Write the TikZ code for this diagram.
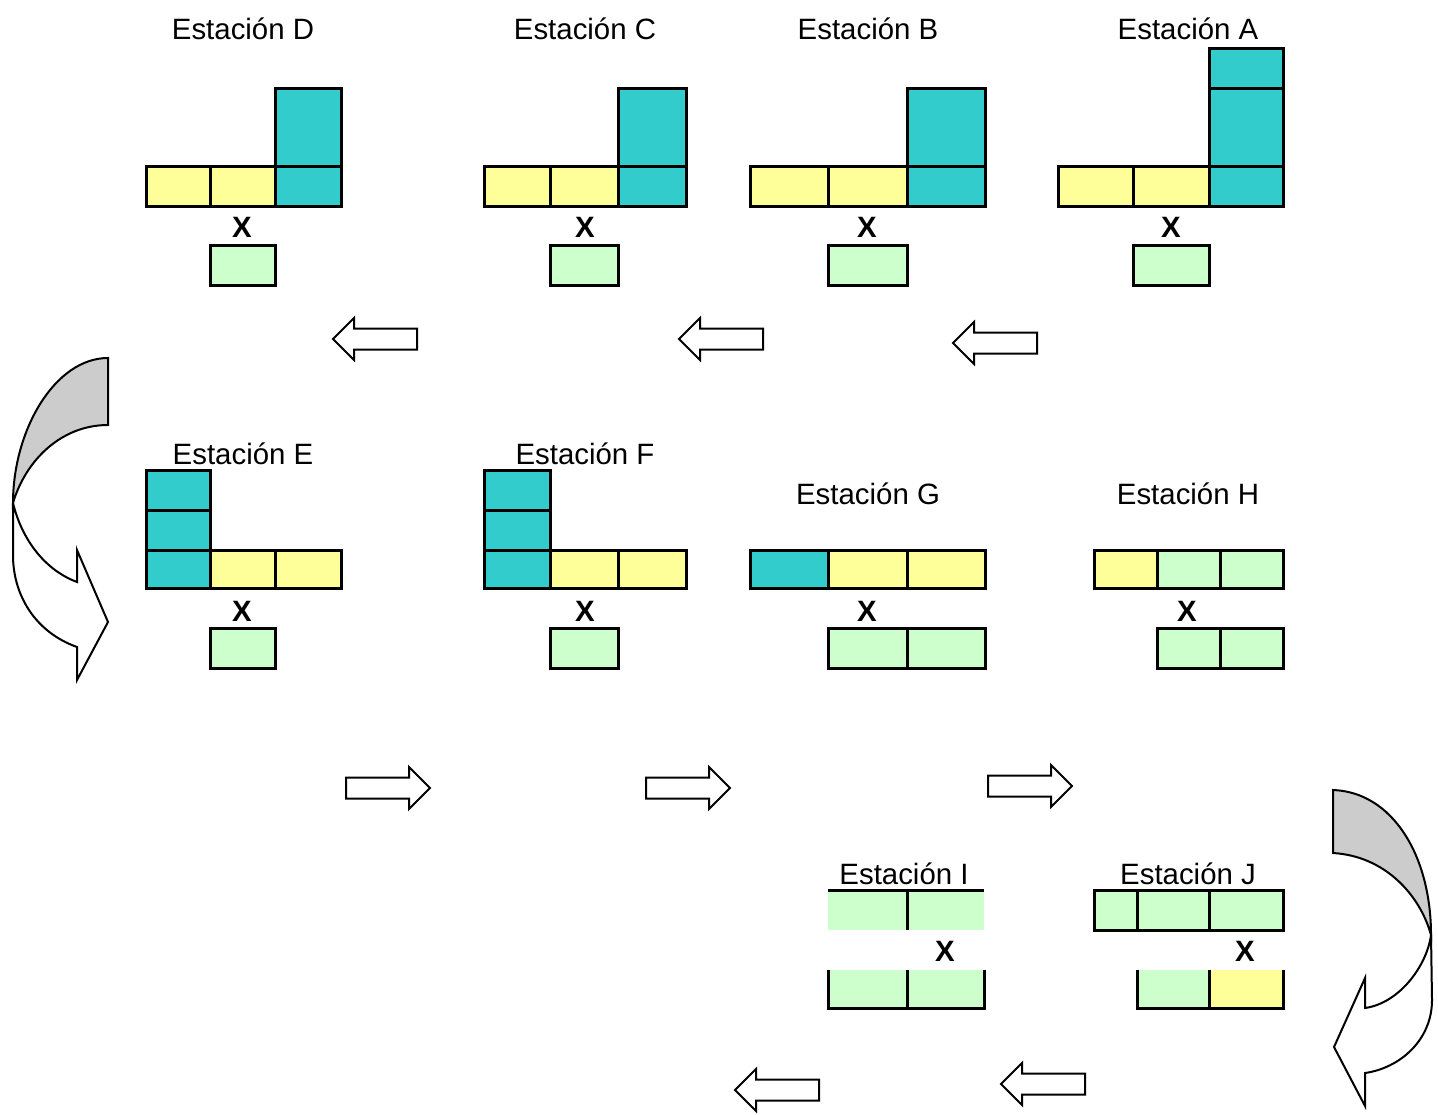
\documentclass[tikz,border=0pt]{standalone}
\usepackage{fontspec}
\setmainfont{Liberation Sans}

\definecolor{turquesa}{HTML}{33CCCC}
\definecolor{amarillo}{HTML}{FFFF99}
\definecolor{verde}{HTML}{CCFFCC}
\definecolor{sombra}{HTML}{CCCCCC}

\tikzset{
  celda/.style={draw=black, line width=1.5pt},
  borde/.style={line width=1.5pt},
  titulo/.style={anchor=base, inner sep=0pt, font=\fontsize{14.7}{17}\selectfont},
  por/.style={anchor=base, inner sep=0pt, font=\fontsize{14.7}{17}\selectfont\bfseries},
  bloque/.style={draw=black, fill=white, line width=1pt, line join=miter},
}

% flecha de bloque: punta x, y, sentido (1 = hacia la izquierda, -1 = hacia la derecha)
\newcommand{\flecha}[3]{%
  \draw[bloque] (#1,#2) -- ({#1+(#3)*21},{#2-21}) -- ({#1+(#3)*21},{#2-10.5})
    -- ({#1+(#3)*84},{#2-10.5}) -- ({#1+(#3)*84},{#2+10.5}) -- ({#1+(#3)*21},{#2+10.5})
    -- ({#1+(#3)*21},{#2+21}) -- cycle;}

\begin{document}
\begin{tikzpicture}[x=0.5pt,y=-0.5pt]
\useasboundingbox (0,0) rectangle (1438,1114);

% Estacion D
  \foreach \xa/\xb/\c in {146/210/amarillo, 210/275/amarillo, 275/341/turquesa}
    \draw[celda, fill=\c] (\xa,166) rectangle (\xb,206);
  \draw[celda, fill=turquesa] (275,88) rectangle (341,166);
  \draw[celda, fill=verde] (210,245) rectangle (275,285);
  \node[titulo] (tD) at (243,39) {Estación D};
  \node[por] (xD) at (242,237) {X};

% Estacion C
  \foreach \xa/\xb/\c in {484/550/amarillo, 550/618/amarillo, 618/686/turquesa}
    \draw[celda, fill=\c] (\xa,166) rectangle (\xb,206);
  \draw[celda, fill=turquesa] (618,88) rectangle (686,166);
  \draw[celda, fill=verde] (550,245) rectangle (618,285);
  \node[titulo] (tC) at (585,39) {Estación C};
  \node[por] (xC) at (585,237) {X};

% Estacion B
  \foreach \xa/\xb/\c in {750/828/amarillo, 828/907/amarillo, 907/985/turquesa}
    \draw[celda, fill=\c] (\xa,166) rectangle (\xb,206);
  \draw[celda, fill=turquesa] (907,88) rectangle (985,166);
  \draw[celda, fill=verde] (828,245) rectangle (907,285);
  \node[titulo] (tB) at (868,39) {Estación B};
  \node[por] (xB) at (867,237) {X};

% Estacion A
  \foreach \xa/\xb/\c in {1058/1133/amarillo, 1133/1209/amarillo, 1209/1283/turquesa}
    \draw[celda, fill=\c] (\xa,166) rectangle (\xb,206);
  \draw[celda, fill=turquesa] (1209,88) rectangle (1283,166);
  \draw[celda, fill=turquesa] (1209,48) rectangle (1283,88);
  \draw[celda, fill=verde] (1133,245) rectangle (1209,285);
  \node[titulo] (tA) at (1188,39) {Estación A};
  \node[por] (xA) at (1171,237) {X};

% Estacion E
  \foreach \ya/\yb in {470/510, 510/550, 550/588}
    \draw[celda, fill=turquesa] (146,\ya) rectangle (210,\yb);
  \foreach \xa/\xb in {210/275, 275/341}
    \draw[celda, fill=amarillo] (\xa,550) rectangle (\xb,588);
  \draw[celda, fill=verde] (210,628) rectangle (275,668);
  \node[titulo] (tE) at (243,464) {Estación E};
  \node[por] (xE) at (242,621) {X};

% Estacion F
  \foreach \ya/\yb in {470/510, 510/550, 550/588}
    \draw[celda, fill=turquesa] (484,\ya) rectangle (550,\yb);
  \foreach \xa/\xb in {550/618, 618/686}
    \draw[celda, fill=amarillo] (\xa,550) rectangle (\xb,588);
  \draw[celda, fill=verde] (550,628) rectangle (618,668);
  \node[titulo] (tF) at (585,464) {Estación F};
  \node[por] (xF) at (585,621) {X};

% Estacion G
  \foreach \xa/\xb/\c in {750/828/turquesa, 828/907/amarillo, 907/985/amarillo}
    \draw[celda, fill=\c] (\xa,550) rectangle (\xb,588);
  \foreach \xa/\xb in {828/907, 907/985}
    \draw[celda, fill=verde] (\xa,628) rectangle (\xb,668);
  \node[titulo] (tG) at (868,504) {Estación G};
  \node[por] (xG) at (867,621) {X};

% Estacion H
  \foreach \xa/\xb/\c in {1094/1157/amarillo, 1157/1220/verde, 1220/1283/verde}
    \draw[celda, fill=\c] (\xa,550) rectangle (\xb,588);
  \foreach \xa/\xb in {1157/1220, 1220/1283}
    \draw[celda, fill=verde] (\xa,628) rectangle (\xb,668);
  \node[titulo] (tH) at (1188,504) {Estación H};
  \node[por] (xH) at (1187,621) {X};

% Estacion I
  \fill[verde] (828,890) rectangle (984,930);
  \draw[borde] (828,890) -- (984,890) (907,890) -- (907,930);
  \fill[verde] (828,970) rectangle (984,1008);
  \draw[borde] (828,970) -- (828,1008) -- (984,1008) -- (984,970) (907,970) -- (907,1008);
  \node[titulo] (tI) at (904,884) {Estación I};
  \node[por] (xI) at (945,961) {X};

% Estacion J
  \foreach \xa/\xb in {1094/1137, 1137/1209, 1209/1283}
    \draw[celda, fill=verde] (\xa,890) rectangle (\xb,930);
  \fill[verde] (1137,970) rectangle (1209,1008);
  \fill[amarillo] (1209,970) rectangle (1283,1008);
  \draw[borde] (1137,970) -- (1137,1008) -- (1283,1008) -- (1283,970) (1209,970) -- (1209,1008);
  \node[titulo] (tJ) at (1188,884) {Estación J};
  \node[por] (xJ) at (1245,961) {X};

% Flechas
  \foreach \px/\py in {333/339, 679/339, 953/343, 735/1090, 1001/1084}
    {\flecha{\px}{\py}{1}}
  \foreach \px/\py in {430/788, 730/788, 1072/786}
    {\flecha{\px}{\py}{-1}}

% Flecha curva izquierda
  \draw[bloque] (13,503) .. controls (22,540) and (45,570) .. (77,582) -- (77,550) -- (108,622)
    -- (77,680) -- (77,647) .. controls (35,632) and (13,595) .. (13,555) -- cycle;
  \draw[bloque, fill=sombra] (108,358) .. controls (55,358) and (13,430) .. (13,503)
    .. controls (25,462) and (60,425) .. (108,425) -- cycle;

% Flecha curva derecha
  \draw[bloque] (1431,935) .. controls (1427,965) and (1400,1003) .. (1365,1008) -- (1365,978)
    -- (1334,1047) -- (1365,1106) -- (1365,1073) .. controls (1400,1068) and (1432,1040) .. (1432,1000) -- cycle;
  \draw[bloque, fill=sombra] (1333,790) .. controls (1392,792) and (1431,855) .. (1431,935)
    .. controls (1420,895) and (1385,856) .. (1333,853) -- cycle;

\end{tikzpicture}
\end{document}
